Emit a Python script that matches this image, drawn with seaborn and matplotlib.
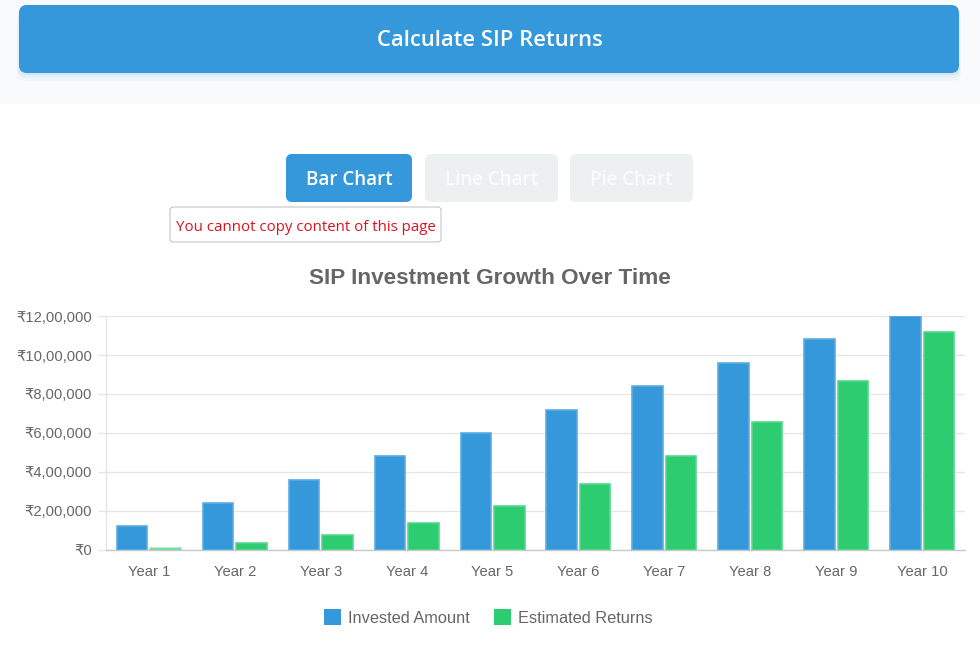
import matplotlib
matplotlib.use("Agg")
import matplotlib.pyplot as plt
from matplotlib.patches import FancyBboxPatch, Rectangle
from matplotlib.ticker import FuncFormatter
import pandas as pd
import seaborn as sns

# ── Data ──────────────────────────────────────────────────────
years = ["Year 1", "Year 2", "Year 3", "Year 4", "Year 5",
         "Year 6", "Year 7", "Year 8", "Year 9", "Year 10"]
invested = [120000, 240000, 360000, 480000, 600000,
            720000, 840000, 960000, 1080000, 1200000]
returns = [8000, 32000, 73000, 135000, 222000,
           336000, 480000, 656000, 868000, 1120000]
series_names = ["Invested Amount", "Estimated Returns"]
y_ticks = [0, 200000, 400000, 600000, 800000, 1000000, 1200000]

BLUE = "#3498db"
GREEN = "#2ecc71"
GREY = "#666666"

df = pd.DataFrame({
    "year": years * 2,
    "value": invested + returns,
    "series": [series_names[0]] * len(years) + [series_names[1]] * len(years),
})

sns.set_theme(style="white")
plt.rcParams["font.family"] = ["Liberation Sans", "DejaVu Sans"]

fig = plt.figure(figsize=(9.8, 6.6), dpi=100, facecolor="white")

# ── Page furniture (pixel coordinates) ────────────────────────
bg = fig.add_axes([0, 0, 1, 1], zorder=0)
bg.set_xlim(0, 980)
bg.set_ylim(660, 0)
bg.axis("off")


def button(x, y, w, h, color, radius=6, **kw):
    bg.add_patch(FancyBboxPatch((x + radius, y + radius), w - 2 * radius, h - 2 * radius,
                                boxstyle=f"round,pad={radius},rounding_size={radius}",
                                fc=color, ec="none", **kw))


bg.add_patch(Rectangle((0, 0), 980, 104, fc="#f8fafc", ec="none"))

# soft shadow below the main button
for i, alpha in zip([8, 6, 4, 2], [0.025, 0.035, 0.05, 0.07]):
    button(19 - i / 4, 5 + i, 940 + i / 2, 68, BLUE, radius=8, alpha=alpha)
button(19, 5, 940, 68, BLUE, radius=8)
bg.text(489.5, 41, "Calculate SIP Returns", color="white", ha="center", va="center",
        fontsize=15.8, fontweight="semibold", family="Open Sans")

button(286, 154, 126, 48, BLUE)
button(425, 154, 133, 48, "#ecf0f1")
button(570, 154, 123, 48, "#ecf0f1")
bg.text(349.5, 180, "Bar Chart", color="white", ha="center", va="center",
        fontsize=13.5, fontweight="semibold", family="Open Sans")
bg.text(491.5, 180, "Line Chart", color="white", ha="center", va="center",
        fontsize=13.5, fontweight="semibold", family="Open Sans", alpha=0.75)
bg.text(631.5, 180, "Pie Chart", color="white", ha="center", va="center",
        fontsize=13.5, fontweight="semibold", family="Open Sans", alpha=0.75)

bg.add_patch(FancyBboxPatch((172, 209), 267, 31,
                            boxstyle="round,pad=2,rounding_size=3",
                            fc="white", ec="#b4b4b4", lw=0.6, zorder=3))
bg.text(305.5, 227.5, "You cannot copy content of this page", color="#e0101e",
        ha="center", va="center", fontsize=10.8, family="Open Sans", zorder=4)

bg.text(489.5, 278, "SIP Investment Growth Over Time", color=GREY, ha="center", va="center",
        fontsize=16.2, fontweight="bold")

# ── Chart ─────────────────────────────────────────────────────
ax = fig.add_axes([106 / 980, 1 - 549.6 / 660, 859 / 980, 233.5 / 660], zorder=1)
ax.patch.set_alpha(0)

sns.barplot(data=df, x="year", y="value", hue="series", order=years,
            palette=[BLUE, GREEN], width=0.78, gap=0.09, saturation=1,
            linewidth=0, ax=ax, zorder=3)

edges = ["#5dade2"] * len(years) + ["#58d68d"] * len(years)
for bar, edge in zip(ax.patches, edges):
    bar.set_edgecolor(edge)
    bar.set_linewidth(1.2)
# the first returns bar is barely a sliver and reads pale
ax.patches[len(years)].set_alpha(0.5)

ax.set_xlim(-0.5, len(years) - 0.5)
ax.set_ylim(0, 1200000)
ax.set_yticks(y_ticks)


def inr(v, _pos):
    # Indian digit grouping, as on the original axis
    v = int(v)
    if v < 100000:
        return f"₹{v:,}"
    return f"₹{v // 100000},{v % 100000 // 1000:02d},{v % 1000:03d}"


ax.yaxis.set_major_formatter(FuncFormatter(inr))
ax.set_xlabel("")
ax.set_ylabel("")
ax.grid(axis="y", color="#e6e6e6", lw=1, zorder=0)
ax.set_axisbelow(True)
ax.tick_params(axis="y", length=5.8, width=1, color="#e6e6e6", labelcolor=GREY,
               labelsize=10.6, pad=4.3, left=True)
ax.tick_params(axis="x", length=0, labelcolor=GREY, labelsize=10.6, pad=11)

for side in ["top", "right"]:
    ax.spines[side].set_visible(False)
ax.spines["left"].set_color("#e6e6e6")
ax.spines["bottom"].set_color("#c9c9c9")
ax.spines["left"].set_linewidth(1)
ax.spines["bottom"].set_linewidth(1)

sns.move_legend(ax, loc="center", bbox_to_anchor=(0.4453, -0.29), ncol=2, frameon=False,
                title=None, fontsize=11.8, labelcolor=GREY, handlelength=1.04, handleheight=1.15,
                handletextpad=0.43, columnspacing=1.46)

fig.savefig("out.png", dpi=100)
